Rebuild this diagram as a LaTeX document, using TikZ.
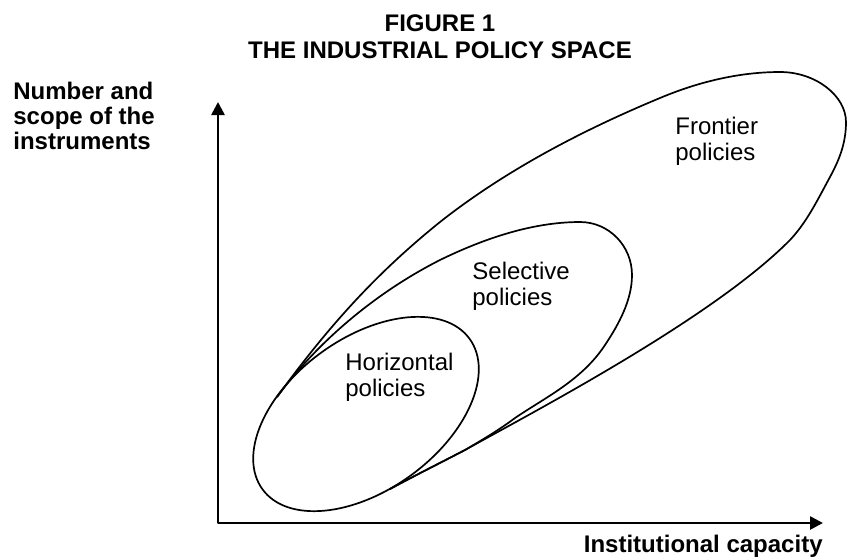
\documentclass[tikz,border=0pt]{standalone}
\usepackage{fontspec}
\setmainfont{Liberation Sans}
\usetikzlibrary{arrows.meta}

\begin{document}
\begin{tikzpicture}[x=0.5pt, y=-0.5pt, >={Triangle[length=6.5pt,width=6.5pt]}, line join=round]
  \tikzset{
    boldlabel/.style={inner sep=0pt, font=\fontsize{12}{13.5}\selectfont\bfseries},
    regionlabel/.style={inner sep=0pt, anchor=north west, align=left, font=\fontsize{12}{13}\selectfont},
    region/.style={line width=0.85pt}
  }
  \useasboundingbox (0,0) rectangle (848,559);

  % Title
  \node[boldlabel, anchor=north, align=center] (title) at (440,14) {FIGURE 1\\THE INDUSTRIAL POLICY SPACE};

  % Axes
  \coordinate (origin) at (218,523);
  \coordinate (ytip) at (218,102);
  \coordinate (xtip) at (823,523);
  \draw[<->, line width=1.3pt] (ytip) -- (origin) -- (xtip);

  \node[boldlabel, anchor=north west, align=left, font=\fontsize{12}{12.5}\selectfont\bfseries] (ylabel) at (13,82) {Number and\\scope of the\\instruments};
  \node[boldlabel, anchor=base east] (xlabel) at (823,552) {Institutional capacity};

  % Horizontal policies
  \draw[region, rotate around={36:(366,414)}] (366,414) ellipse (128 and 76);

  % Selective policies
  \draw[region] (277,397) .. controls (319,340) and (377,292) .. (440,260)
    .. controls (483,239) and (532,222) .. (580,222)
    .. controls (609,222) and (632,246) .. (632,275)
    .. controls (632,300) and (619,324) .. (605,345)
    .. controls (582,380) and (546,397) .. (515,418)
    .. controls (499,430) and (482,440) .. (465,450)
    .. controls (440,463) and (414,476) .. (390,489);

  % Frontier policies
  \draw[region] (277,397) .. controls (330,324) and (378,272) .. (440,222)
    .. controls (506,170) and (583,130) .. (660,98)
    .. controls (698,82) and (739,72) .. (780,72)
    .. controls (816,72) and (846,96) .. (846,122)
    .. controls (846,145) and (838,162) .. (830,177)
    .. controls (818,199) and (807,222) .. (790,240)
    .. controls (713,318) and (535,411) .. (465,450)
    .. controls (440,463) and (414,476) .. (390,489);

  % Region labels
  \node[regionlabel] (frontier) at (675,117) {Frontier\\policies};
  \node[regionlabel] (selective) at (472,262) {Selective\\policies};
  \node[regionlabel] (horizontal) at (345,353) {Horizontal\\policies};
\end{tikzpicture}
\end{document}
